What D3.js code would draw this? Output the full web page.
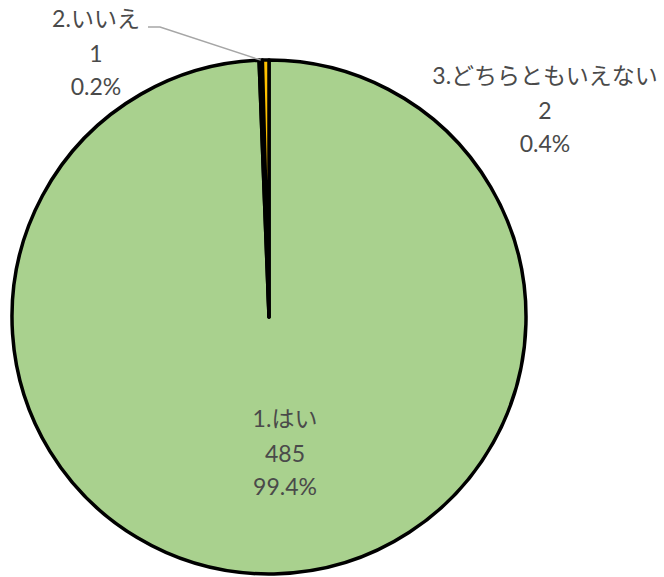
<!DOCTYPE html>
<html>
<head>
<meta charset="utf-8">
<script src="https://cdn.jsdelivr.net/npm/d3@7"></script>
<style>
  body { margin: 0; background: #fff; }
  text { font-family: Lato, "Noto Sans CJK JP", sans-serif; fill: #4a4a4a; }
</style>
</head>
<body>
<svg id="chart" width="664" height="577"></svg>
<script>
'use strict';

// chart data
const categories = ['1.はい', '2.いいえ', '3.どちらともいえない'];
const counts = [485, 1, 2];
const percents = ['99.4%', '0.2%', '0.4%'];
const colors = ['#A9D18E', '#7F7F7F', '#FFC000'];

const width = 664, height = 577;
const cx = 269, cy = 317, radius = 257;

let svg = d3.select('#chart');
let g = svg.append('g').attr('transform', 'translate(' + cx + ',' + cy + ')');

let pie = d3.pie().sort(null).value(d => d.value);
let arcs = pie(categories.map((c, i) => ({ name: c, value: counts[i], pct: percents[i], color: colors[i] })));

let arc = d3.arc().innerRadius(0).outerRadius(radius);

g.selectAll('path.slice')
    .data(arcs)
    .join('path')
    .attr('class', 'slice')
    .attr('d', arc)
    .attr('fill', d => d.data.color)
    .attr('stroke', '#000')
    .attr('stroke-width', 3.5)
    .attr('stroke-linejoin', 'round');

// label positions (relative to pie centre), baseline of first line
const labelPos = [
    { x: 16, y: 110 },
    { x: -173, y: -290 },
    { x: 276, y: -233 }
];

// leader line for the small "いいえ" slice
let a1 = arcs[1];
let mid = (a1.startAngle + a1.endAngle) / 2;
let edge = [Math.sin(mid) * radius, -Math.cos(mid) * radius];
g.append('polyline')
    .attr('points', [[-121, -290], [-109, -290], edge].map(p => p.join(',')).join(' '))
    .attr('fill', 'none')
    .attr('stroke', '#A6A6A6')
    .attr('stroke-width', 1.5);

arcs.forEach((d, i) => {
    let p = labelPos[i];
    let t = g.append('text')
        .attr('text-anchor', 'middle')
        .attr('font-size', 23);
    t.append('tspan').attr('x', p.x).attr('y', p.y).text(d.data.name);
    t.append('tspan').attr('x', p.x).attr('y', p.y + 35).text(d3.format('d')(d.data.value));
    t.append('tspan').attr('x', p.x).attr('y', p.y + 68).text(d.data.pct);
});
</script>
</body>
</html>
